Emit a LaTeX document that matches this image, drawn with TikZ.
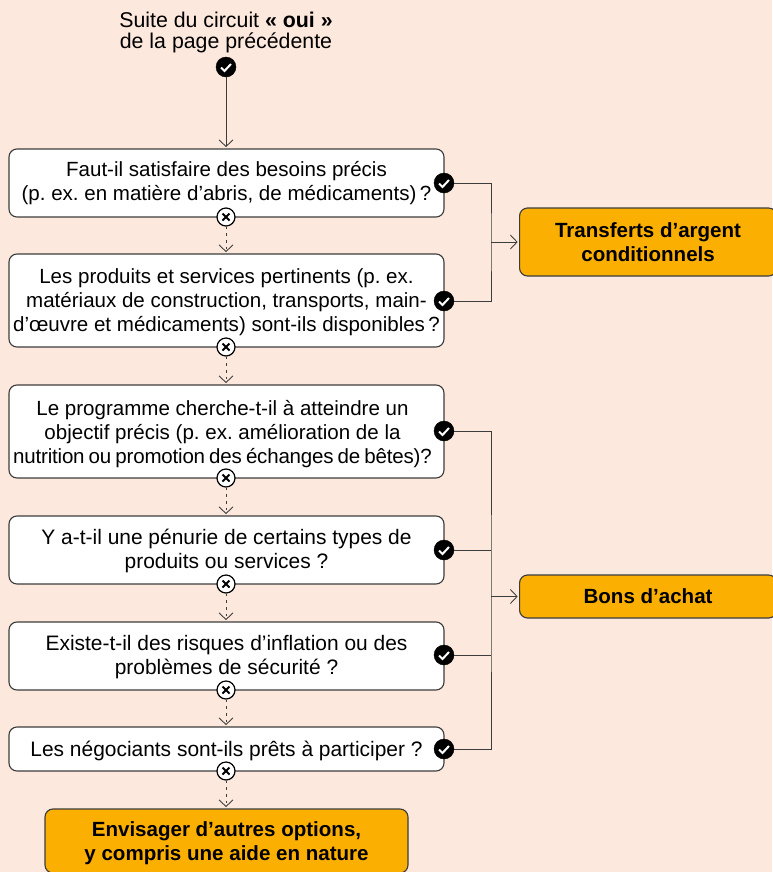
\documentclass[tikz,border=0pt]{standalone}
\usepackage{fontspec}
\setmainfont{Liberation Sans}
\usetikzlibrary{arrows.meta}
\definecolor{pagebg}{HTML}{FCE8DC}
\definecolor{amber}{HTML}{FBAF00}
\definecolor{rule}{HTML}{3C3C3C}
\frenchspacing
\newcommand{\topfix}[1]{\rule{0pt}{#1}}
\newcommand{\leftfix}{\kern6pt\null}
\tikzset{
  x=0.75pt,y=-0.75pt,
  txt/.style={font=\fontsize{15.4pt}{18pt}\selectfont,align=center,text=black,inner sep=0pt},
  qbox/.style={draw=rule,line width=0.85pt,fill=white,rounded corners=6pt,minimum width=326.25pt,inner sep=0pt,txt},
  bigq/.style={qbox,font=\fontsize{15.7pt}{18pt}\selectfont},
  obox/.style={draw=rule,line width=0.85pt,fill=amber,rounded corners=6pt,inner sep=0pt,txt,font=\fontsize{15.4pt}{18pt}\selectfont\bfseries},
  yesm/.style={circle,fill=black,draw=black,line width=0.3pt,minimum size=15pt,inner sep=0pt,
    path picture={\draw[white,line width=1.5pt] (path picture bounding box.center) ++(-5,0.5) -- ++(3.5,3.5) -- ++(6.5,-7);}},
  nom/.style={circle,fill=white,draw=black,line width=0.9pt,minimum size=13.5pt,inner sep=0pt,
    path picture={\draw[black,line width=1.5pt] (path picture bounding box.center) ++(-3.5,-3.5) -- ++(7,7) ++(0,-7) -- ++(-7,7);}},
  flow/.style={draw=rule,line width=0.7pt,shorten >=1pt,-{Straight Barb[length=5pt,width=10.5pt,line width=0.65pt]}},
  dflow/.style={flow,dash pattern=on 2pt off 3pt},
  link/.style={draw=rule,line width=0.75pt},
}
\begin{document}
\begin{tikzpicture}
\useasboundingbox (0,0) rectangle (772,872);
\fill[pagebg] (0,0) rectangle (772,872);
\node[txt,font=\fontsize{16pt}{15.8pt}\selectfont] (top) at (226,32.5) {Suite du circuit \textbf{« oui »}\\de la page précédente};
\node[qbox,minimum height=51pt] (q1) at (226.5,183) {Faut-il satisfaire des besoins précis\\(p. ex. en matière d’abris, de médicaments)\,?};
\node[qbox,minimum height=69.75pt] (q2) at (226.5,300.5) {\topfix{14.2pt}Les produits et services pertinents (p. ex.\\matériaux de construction, transports, main-\\d’œuvre et médicaments) sont-ils disponibles\,?};
\node[qbox,minimum height=69.75pt] (q3) at (226.5,431.5) {\topfix{15pt}Le programme cherche-t-il à atteindre un\leftfix\\objectif précis (p. ex. amélioration de la\leftfix\\{\addfontfeature{LetterSpace=-1}\spaceskip=.2em nutrition ou promotion des échanges de bêtes)?}\leftfix};
\node[bigq,minimum height=51pt] (q4) at (226.5,550) {\topfix{13.2pt}Y a-t-il une pénurie de certains types de\\produits ou services ?};
\node[bigq,minimum height=51pt] (q5) at (226.5,656) {\topfix{13.2pt}Existe-t-il des risques d’inflation ou des\\problèmes de sécurité ?};
\node[bigq,minimum height=33pt] (q6) at (226.5,749) {\topfix{14.2pt}Les négociants sont-ils prêts à participer ?};
\node[obox,minimum width=272.25pt,minimum height=48pt] (other) at (226.5,841) {\topfix{14pt}Envisager d’autres options,\\y compris une aide en nature};
\node[obox,minimum width=192.75pt,minimum height=51pt,anchor=west] (tac) at (519,242) {Transferts d’argent\\conditionnels};
\node[obox,minimum width=192.75pt,minimum height=32.25pt,anchor=west] (bons) at (519,596.5) {Bons d’achat};
\node[yesm] (y0) at (226,67) {};
\node[yesm] (y1) at (444,183) {};
\node[yesm] (y2) at (444,301) {};
\node[yesm] (y3) at (444,431) {};
\node[yesm] (y4) at (444,550) {};
\node[yesm] (y5) at (444,655) {};
\node[yesm] (y6) at (444,749) {};
\node[nom] (n1) at (226,217) {};
\node[nom] (n2) at (226,347) {};
\node[nom] (n3) at (226,478) {};
\node[nom] (n4) at (226,584) {};
\node[nom] (n5) at (226,690) {};
\node[nom] (n6) at (226,771) {};
\coordinate (j1) at (491,242);
\coordinate (j2) at (491,596.5);
\draw[flow] (y0) -- (q1.north -| y0);
\draw[dflow] (n1) -- (q2.north -| n1);
\draw[dflow] (n2) -- (q3.north -| n2);
\draw[dflow] (n3) -- (q4.north -| n3);
\draw[dflow] (n4) -- (q5.north -| n4);
\draw[dflow] (n5) -- (q6.north -| n5);
\draw[dflow] (n6) -- (other.north -| n6);
\draw[link] (y1) -| (j1) |- (y2);
\draw[flow] (j1) -- (tac);
\draw[link] (y3) -| (j2) |- (y6);
\draw[link] (y4) -- (y4 -| j2);
\draw[link] (y5) -- (y5 -| j2);
\draw[flow] (j2) -- (bons);
\end{tikzpicture}
\end{document}
